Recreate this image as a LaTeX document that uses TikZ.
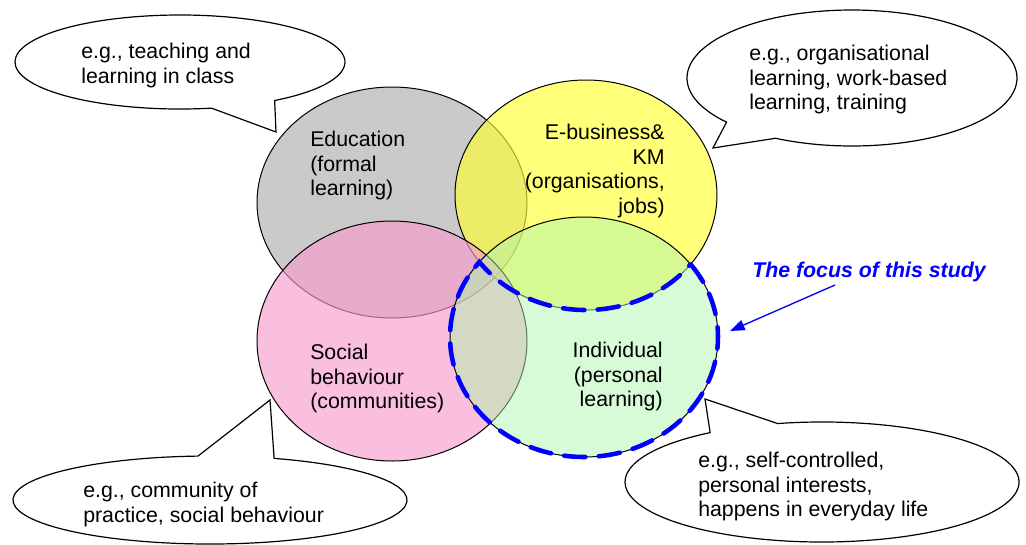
\documentclass[tikz,border=0pt]{standalone}
\usepackage{fontspec}
\setmainfont{Liberation Sans}
\usetikzlibrary{arrows.meta}
\definecolor{cgray}{RGB}{202,202,202}
\definecolor{cyellow}{RGB}{255,255,50}
\definecolor{cpink}{RGB}{248,155,205}
\definecolor{cgreen}{RGB}{175,245,175}
\definecolor{focusblue}{RGB}{0,0,255}
\begin{document}
\begin{tikzpicture}[x=0.75pt,y=-0.75pt,
  outline/.style={draw=black, line width=0.75pt},
  bubble/.style={draw=black, fill=white, line width=0.9pt},
  lbl/.style={inner sep=0pt, font=\fontsize{16}{18.4}\selectfont},
  focusdash/.style={draw=focusblue, line width=3.4pt, dash pattern=on 16pt off 10pt, line cap=round},
  focustext/.style={inner sep=0pt, text=focusblue, font=\fontsize{16}{18.4}\selectfont\bfseries\itshape}]
\useasboundingbox (0,0) rectangle (1026,544);
% centres
\coordinate (cedu) at (392,202.5);
\coordinate (cbus) at (586,195);
\coordinate (csoc) at (392,341);
\coordinate (cind) at (584,337);
% circles
\fill[cgray] (cedu) ellipse [x radius=135, y radius=115.5];
\draw[outline] (cedu) ellipse [x radius=135, y radius=115.5];
\fill[cyellow, fill opacity=0.65] (cbus) ellipse [x radius=131, y radius=115];
\draw[outline] (cbus) ellipse [x radius=131, y radius=115];
\fill[cpink, fill opacity=0.65] (csoc) ellipse [x radius=135, y radius=120];
\draw[outline] (csoc) ellipse [x radius=135, y radius=120];
\fill[cgreen, fill opacity=0.5] (cind) ellipse [x radius=134, y radius=120];
\draw[outline] (cind) ellipse [x radius=134, y radius=120];
% focus outline
\draw[focusdash] (cind) ++(-37.2:134 and 120)
  arc[start angle=-37.2, end angle=218.7, x radius=134, y radius=120]
  arc[start angle=144.4, end angle=37.5, x radius=131, y radius=115] -- cycle;
% circle labels
\node[lbl, anchor=north west, align=left] (edu) at (310,131) {Education\\(formal\\learning)};
\node[lbl, anchor=north east, align=right] (bus) at (665,124) {E-business\&\\KM\\(organisations,\\jobs)};
\node[lbl, anchor=north west, align=left] (soc) at (310,344) {Social\\behaviour\\(communities)};
\node[lbl, anchor=north east, align=right] (ind) at (663,342) {Individual\\(personal\\learning)};
% callouts
\coordinate (b1) at (180,62);
\coordinate (t1) at (276,132);
\draw[bubble] (b1) ++(79:165 and 47) arc[start angle=79, end angle=415, x radius=165, y radius=47] -- (t1) -- cycle;
\node[lbl, anchor=north west, align=left] (n1) at (81,43) {e.g., teaching and\\learning in class};
\coordinate (b2) at (852,78);
\coordinate (t2) at (713,148);
\draw[bubble] (b2) ++(139.5:165 and 68) arc[start angle=139.5, end angle=477.6, x radius=165, y radius=68] -- (t2) -- cycle;
\node[lbl, anchor=north west, align=left] (n2) at (749,45) {e.g., organisational\\learning, work-based\\learning, training};
\coordinate (b3) at (210,500);
\coordinate (t3) at (270,400);
\draw[bubble] (b3) ++(289:197 and 44) arc[start angle=289, end angle=626.5, x radius=197, y radius=44] -- (t3) -- cycle;
\node[lbl, anchor=north west, align=left] (n3) at (83,482) {e.g., community of\\practice, social behaviour};
\coordinate (b4) at (822,482);
\coordinate (t4) at (705,399);
\draw[bubble] (b4) ++(257:197 and 60) arc[start angle=257, end angle=595.4, x radius=197, y radius=60] -- (t4) -- cycle;
\node[lbl, anchor=north west, align=left] (n4) at (698,452) {e.g., self-controlled,\\personal interests,\\happens in everyday life};
% focus label and arrow
\node[focustext, anchor=north west] (focus) at (752,262) {The focus of this study};
\coordinate (ftail) at (835,285);
\coordinate (fhead) at (730,331);
\draw[focusblue, line width=1pt, -{Triangle[length=11pt,width=8pt]}] (ftail) -- (fhead);
\end{tikzpicture}
\end{document}
